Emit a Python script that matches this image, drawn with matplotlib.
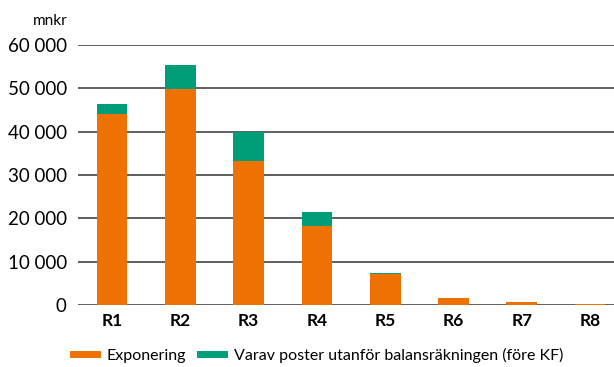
import numpy as np
import matplotlib.pyplot as plt
from matplotlib.lines import Line2D

categories = ["R1", "R2", "R3", "R4", "R5", "R6", "R7", "R8"]
exponering = [44100, 49800, 33200, 18300, 7200, 1500, 650, 200]
utanfor = [2300, 5500, 6700, 3200, 150, 0, 150, 0]
yticks = [0, 10000, 20000, 30000, 40000, 50000, 60000]

orange = "#ED7203"
green = "#009E78"

plt.rcParams["font.family"] = ["Lato", "DejaVu Sans"]

fig = plt.figure(figsize=(6.14, 3.67), dpi=100)
ax = fig.add_axes([0.127, 0.169, 0.873, 0.708])

x = np.arange(len(categories))
ax.bar(x, exponering, width=0.45, color=orange, zorder=3)
ax.bar(x, utanfor, width=0.45, bottom=exponering, color=green, zorder=3)

ax.set_ylim(0, 60000)
ax.set_xlim(-0.5, 7.35)
ax.set_yticks(yticks)
ax.set_yticklabels([f"{v:,}".replace(",", " ") for v in yticks], fontsize=13.5)
ax.set_xticks(x)
ax.set_xticklabels(categories, fontsize=12.5, fontweight="bold")
ax.tick_params(axis="both", length=0, pad=6)
ax.tick_params(axis="y", pad=8)
ax.yaxis.grid(True, color="#444444", linewidth=1.2, zorder=0)
for s in ax.spines.values():
    s.set_visible(False)

fig.text(0.11, 0.925, "mnkr", fontsize=11, ha="right", va="bottom")

handles = [Line2D([], [], color=orange, lw=5), Line2D([], [], color=green, lw=5)]
fig.legend(handles, ["Exponering", "Varav poster utanför balansräkningen (före KF)"],
           loc="lower left", bbox_to_anchor=(0.095, -0.028), ncol=2, frameon=False,
           fontsize=11.5, handlelength=1.5, columnspacing=0.9, handletextpad=0.6)

fig.savefig("out.png", dpi=100)
